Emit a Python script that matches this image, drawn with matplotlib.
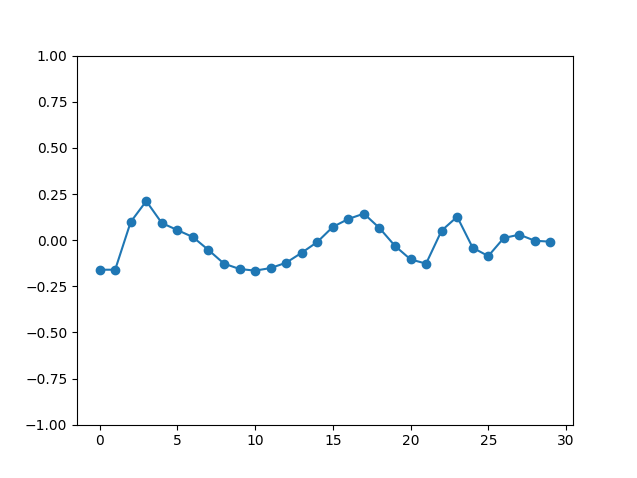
import matplotlib
matplotlib.use('Agg')
import matplotlib.pyplot as plt
import numpy as np

x = np.arange(30)
values = [-0.160, -0.160, 0.099, 0.212, 0.093, 0.055, 0.017, -0.053, -0.127, -0.156,
          -0.165, -0.151, -0.122, -0.068, -0.010, 0.072, 0.115, 0.144, 0.066, -0.031,
          -0.104, -0.127, 0.052, 0.127, -0.041, -0.086, 0.012, 0.030, -0.003, -0.008]

fig = plt.figure(figsize=(6.37, 4.78), dpi=100)
plt.subplots_adjust(left=0.121, right=0.8995, top=0.8835, bottom=0.1115)
plt.plot(x, values, 'o-')
plt.ylim([-1, 1])
plt.savefig('out.png')
